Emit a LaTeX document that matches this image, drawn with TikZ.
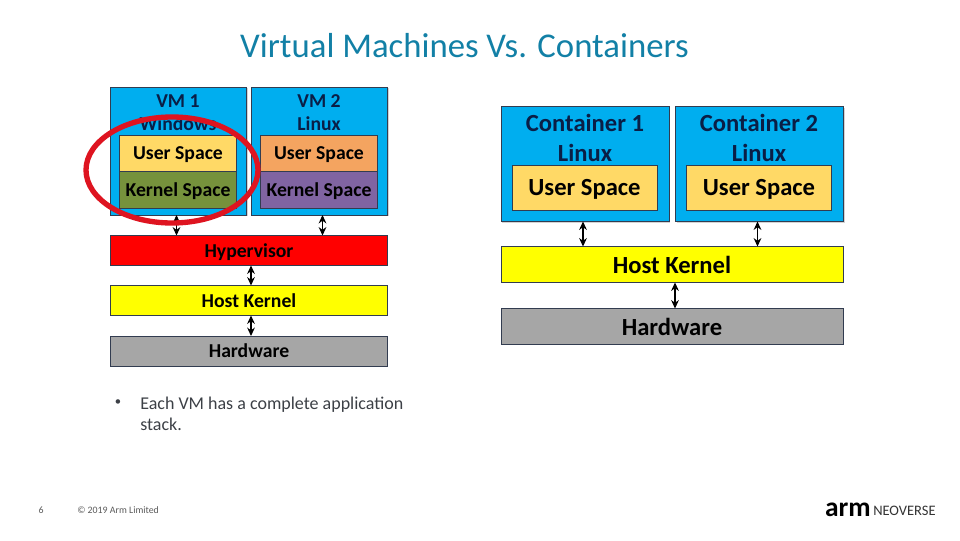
\documentclass[tikz,border=0pt]{standalone}
\usepackage{fontspec}
\setmainfont{Carlito}
\usepackage{tikz}
\usetikzlibrary{arrows.meta}
\usetikzlibrary{shadows}
\usetikzlibrary{shapes.geometric}
\definecolor{armteal}{RGB}{18,128,166}
\definecolor{vmblue}{RGB}{0,174,239}
\definecolor{uspace}{RGB}{255,217,102}
\definecolor{uorange}{RGB}{244,164,96}
\definecolor{kgreen}{RGB}{118,146,60}
\definecolor{kpurple}{RGB}{128,100,162}
\definecolor{hwgray}{RGB}{166,166,166}
\definecolor{hostyellow}{RGB}{255,255,0}
\definecolor{hyperred}{RGB}{255,0,0}
\definecolor{ringred}{RGB}{222,20,32}
\definecolor{inkblue}{RGB}{10,30,70}
\definecolor{bodygray}{RGB}{60,64,70}
\definecolor{edgegray}{RGB}{50,60,80}
\newcommand{\px}{0.025cm}
\tikzset{
    box/.style args={#1/#2/#3}{draw=edgegray, line width=0.5pt, fill=#3, anchor=north west,
        minimum width=#1*\px, minimum height=#2*\px, inner sep=0pt, outer sep=0pt, text depth=0pt},
    vmbox/.style={drop shadow={shadow xshift=1pt, shadow yshift=-1pt, opacity=0.35}},
    smalltext/.style={font=\fontsize{14}{15}\selectfont\bfseries, text=black},
    bigtext/.style={font=\fontsize{17.5}{18}\selectfont\bfseries, text=black},
    titletext/.style={text=inkblue},
    link/.style={{Stealth[length=6pt,width=5.5pt]}-{Stealth[length=6pt,width=5.5pt]}, line width=0.8pt}
}
\begin{document}
\begin{tikzpicture}[x=\px, y=-\px]
    \useasboundingbox (0,0) rectangle (960,540);
    \node[text=armteal, font=\fontsize{24.7}{27}\selectfont] (heading) at (464.5,46) {Virtual Machines Vs. Containers};

    % left stack
    \node[box=136/128/vmblue, vmbox] (vma) at (110.5,87) {};
    \node[box=136/128/vmblue, vmbox] (vmb) at (251.5,87) {};
    \node[smalltext, titletext] (vmaname) at (178,101) {VM 1};
    \node[smalltext, titletext] (vmaos) at (178,124) {Windows};
    \node[smalltext, titletext] (vmbname) at (319,101) {VM 2};
    \node[smalltext, titletext] (vmbos) at (319,124) {Linux};
    \node[box=117/36/uspace, smalltext] (usera) at (119.5,135) {User Space};
    \node[box=117/37/kgreen, smalltext] (kernela) at (119.5,171) {Kernel Space};
    \node[box=117/36/uorange, smalltext] (userb) at (260.5,135) {User Space};
    \node[box=117/37/kpurple, smalltext] (kernelb) at (260.5,171) {Kernel Space};
    \node[box=277/30/hyperred, smalltext] (hyper) at (110.5,235.5) {Hypervisor};
    \node[box=277/30/hostyellow, smalltext] (hosta) at (110.5,285.5) {Host Kernel};
    \node[box=277/30/hwgray, smalltext] (hwa) at (110.5,336) {Hardware};

    \draw[link] ([xshift=-2*\px]vma.south) -- ([xshift=-2*\px]vma.south |- hyper.north);
    \draw[link] ([xshift=3*\px]vmb.south) -- ([xshift=3*\px]vmb.south |- hyper.north);
    \draw[link] ([xshift=2*\px]hyper.south) -- ([xshift=2*\px]hosta.north);
    \draw[link] ([xshift=2*\px]hosta.south) -- ([xshift=2*\px]hwa.north);

    % the ring goes over the VM 1 box
    \node[draw=ringred, line width=3.8pt, ellipse, minimum width=172*\px, minimum height=106*\px] (ring) at (172,170) {};

    % right stack
    \node[box=168/115/vmblue, vmbox] (cona) at (501,106.5) {};
    \node[box=168/115/vmblue, vmbox] (conb) at (675.5,106.5) {};
    \node[bigtext, titletext] (conaname) at (585,123) {Container 1};
    \node[bigtext, titletext] (conaos) at (585,153) {Linux};
    \node[bigtext, titletext] (conbname) at (759,123) {Container 2};
    \node[bigtext, titletext] (conbos) at (759,153) {Linux};
    \node[box=145/45/uspace, bigtext] (userc) at (512,165) {User Space};
    \node[box=145/45/uspace, bigtext] (userd) at (686.5,165) {User Space};
    \node[box=342/36/hostyellow, bigtext] (hostb) at (501,246.5) {Host Kernel};
    \node[box=342/36/hwgray, bigtext] (hwb) at (501,308.5) {Hardware};

    \draw[link] ([xshift=-2*\px]cona.south) -- ([xshift=-2*\px]cona.south |- hostb.north);
    \draw[link] ([xshift=-2*\px]conb.south) -- ([xshift=-2*\px]conb.south |- hostb.north);
    \draw[link] ([xshift=3*\px]hostb.south) -- ([xshift=3*\px]hwb.north);

    % text and footer
    \node[text=bodygray, font=\fontsize{9}{15}\selectfont] (bullet) at (118,403) {•};
    \node[text=bodygray, font=\fontsize{12.8}{15}\selectfont, anchor=north west, text width=280*\px, inner sep=0pt, align=flush left] (note) at (140,397) {Each VM has a complete application stack.};
    \node[text=black!65, font=\fontsize{7}{8}\selectfont] (page) at (41,510) {6};
    \node[text=black!65, font=\fontsize{7}{8}\selectfont, anchor=west, inner sep=0pt] (copy) at (77,510) {© 2019 Arm Limited};
    \node[font=\fontsize{19.5}{20}\selectfont\bfseries, anchor=east, inner sep=0pt] (armlogo) at (871,510) {arm};
    \node[text=black!80, font=\fontsize{10.3}{11}\selectfont, anchor=west, inner sep=0pt] (neolabel) at (873,511) {NEOVERSE};
\end{tikzpicture}
\end{document}
